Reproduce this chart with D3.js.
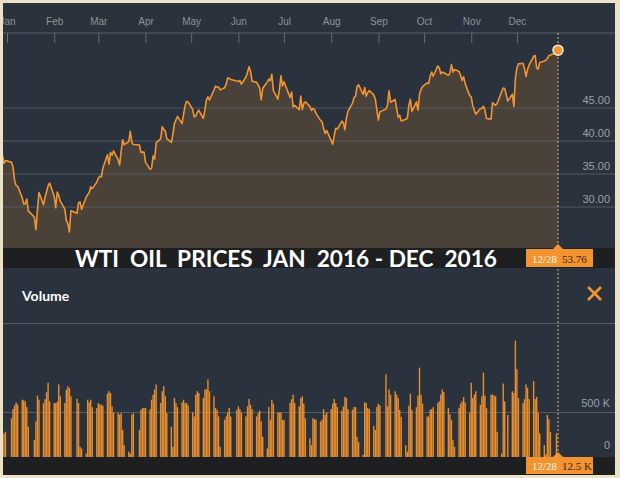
<!DOCTYPE html>
<html><head><meta charset="utf-8">
<script src="https://cdn.jsdelivr.net/npm/d3@7"></script>
<style>
html,body{margin:0;padding:0;background:#ebe2c8;}
svg{display:block;}
</style></head>
<body>
<svg id="chart" width="620" height="478"></svg>
<script>
// ---------- DATA ----------
const dates = [
"2015-12-28","2015-12-29","2015-12-30","2015-12-31",
"2016-01-04","2016-01-05","2016-01-06","2016-01-07","2016-01-08","2016-01-11","2016-01-12","2016-01-13","2016-01-14","2016-01-15","2016-01-19","2016-01-20","2016-01-21","2016-01-22","2016-01-25","2016-01-26","2016-01-27","2016-01-28","2016-01-29",
"2016-02-01","2016-02-02","2016-02-03","2016-02-04","2016-02-05","2016-02-08","2016-02-09","2016-02-10","2016-02-11","2016-02-12","2016-02-16","2016-02-17","2016-02-18","2016-02-19","2016-02-22","2016-02-23","2016-02-24","2016-02-25","2016-02-26","2016-02-29",
"2016-03-01","2016-03-02","2016-03-03","2016-03-04","2016-03-07","2016-03-08","2016-03-09","2016-03-10","2016-03-11","2016-03-14","2016-03-15","2016-03-16","2016-03-17","2016-03-18","2016-03-21","2016-03-22","2016-03-23","2016-03-24","2016-03-28","2016-03-29","2016-03-30","2016-03-31",
"2016-04-01","2016-04-04","2016-04-05","2016-04-06","2016-04-07","2016-04-08","2016-04-11","2016-04-12","2016-04-13","2016-04-14","2016-04-15","2016-04-18","2016-04-19","2016-04-20","2016-04-21","2016-04-22","2016-04-25","2016-04-26","2016-04-27","2016-04-28","2016-04-29",
"2016-05-02","2016-05-03","2016-05-04","2016-05-05","2016-05-06","2016-05-09","2016-05-10","2016-05-11","2016-05-12","2016-05-13","2016-05-16","2016-05-17","2016-05-18","2016-05-19","2016-05-20","2016-05-23","2016-05-24","2016-05-25","2016-05-26","2016-05-27","2016-05-31",
"2016-06-01","2016-06-02","2016-06-03","2016-06-06","2016-06-07","2016-06-08","2016-06-09","2016-06-10","2016-06-13","2016-06-14","2016-06-15","2016-06-16","2016-06-17","2016-06-20","2016-06-21","2016-06-22","2016-06-23","2016-06-24","2016-06-27","2016-06-28","2016-06-29","2016-06-30",
"2016-07-01","2016-07-05","2016-07-06","2016-07-07","2016-07-08","2016-07-11","2016-07-12","2016-07-13","2016-07-14","2016-07-15","2016-07-18","2016-07-19","2016-07-20","2016-07-21","2016-07-22","2016-07-25","2016-07-26","2016-07-27","2016-07-28","2016-07-29",
"2016-08-01","2016-08-02","2016-08-03","2016-08-04","2016-08-05","2016-08-08","2016-08-09","2016-08-10","2016-08-11","2016-08-12","2016-08-15","2016-08-16","2016-08-17","2016-08-18","2016-08-19","2016-08-22","2016-08-23","2016-08-24","2016-08-25","2016-08-26","2016-08-29","2016-08-30","2016-08-31",
"2016-09-01","2016-09-02","2016-09-06","2016-09-07","2016-09-08","2016-09-09","2016-09-12","2016-09-13","2016-09-14","2016-09-15","2016-09-16","2016-09-19","2016-09-20","2016-09-21","2016-09-22","2016-09-23","2016-09-26","2016-09-27","2016-09-28","2016-09-29","2016-09-30",
"2016-10-03","2016-10-04","2016-10-05","2016-10-06","2016-10-07","2016-10-10","2016-10-11","2016-10-12","2016-10-13","2016-10-14","2016-10-17","2016-10-18","2016-10-19","2016-10-20","2016-10-21","2016-10-24","2016-10-25","2016-10-26","2016-10-27","2016-10-28","2016-10-31",
"2016-11-01","2016-11-02","2016-11-03","2016-11-04","2016-11-07","2016-11-08","2016-11-09","2016-11-10","2016-11-11","2016-11-14","2016-11-15","2016-11-16","2016-11-17","2016-11-18","2016-11-21","2016-11-22","2016-11-23","2016-11-25","2016-11-28","2016-11-29","2016-11-30",
"2016-12-01","2016-12-02","2016-12-05","2016-12-06","2016-12-07","2016-12-08","2016-12-09","2016-12-12","2016-12-13","2016-12-14","2016-12-15","2016-12-16","2016-12-19","2016-12-20","2016-12-21","2016-12-22","2016-12-23","2016-12-27","2016-12-28"
];
const prices = [
36.81,37.87,36.60,37.04,
36.76,35.97,33.97,33.27,33.16,31.41,30.44,30.48,31.20,29.42,28.46,26.55,29.53,32.19,30.34,31.45,32.30,33.22,33.62,
31.62,29.88,32.28,31.72,30.89,29.69,27.94,27.45,26.21,29.44,29.04,30.66,30.77,29.64,31.48,31.87,32.15,33.07,32.78,33.75,
34.40,34.66,34.57,35.92,37.90,36.50,38.29,37.84,38.50,37.18,36.34,38.46,40.20,39.44,39.91,41.45,39.79,39.46,39.39,38.28,38.32,38.34,
36.79,35.70,35.89,37.75,37.26,39.72,40.36,42.17,41.76,41.50,40.36,39.78,41.08,42.63,43.18,43.73,42.64,44.04,45.33,46.03,45.92,
44.78,43.65,43.78,44.32,44.66,43.44,44.66,46.23,46.70,46.21,47.72,48.31,48.19,48.16,47.75,48.08,48.62,49.56,49.48,49.33,49.10,
49.01,49.17,48.62,49.69,50.36,51.23,50.56,49.07,48.88,48.49,48.01,46.21,47.98,48.96,49.37,49.13,50.11,47.64,46.33,47.85,49.88,48.33,
48.99,46.60,47.43,45.14,45.41,44.76,46.80,44.75,45.68,45.95,45.24,44.65,44.94,44.75,44.19,43.13,42.92,41.92,41.14,41.60,
40.06,39.51,40.83,41.93,41.80,43.02,42.77,41.71,43.49,44.49,45.74,46.58,46.79,48.22,48.52,47.05,48.10,46.77,47.33,47.64,46.98,46.35,44.70,
43.16,44.44,44.83,45.50,47.62,45.88,46.29,44.90,43.58,43.91,43.03,43.30,43.44,45.34,46.32,44.48,45.93,44.67,47.05,47.83,48.24,
48.81,48.69,49.83,50.44,49.81,51.35,51.10,50.18,50.44,50.35,49.94,50.29,51.60,50.43,50.85,50.52,49.96,49.18,49.72,48.70,46.86,
46.67,45.34,44.66,44.07,44.89,44.98,45.27,44.66,43.41,43.32,45.81,45.57,45.42,45.69,47.49,48.03,47.96,46.06,47.08,45.23,49.44,
51.06,51.68,51.79,50.93,49.77,50.84,51.50,52.83,52.98,51.04,50.90,51.90,52.12,52.23,52.49,52.95,53.02,53.40,53.76
];
// volume in thousands of contracts
const volumes = [
240,250,265,285,
436,540,580,614,590,644,637,625,560,341,190,400,690,644,606,650,728,834,625,
606,606,620,815,682,606,758,796,777,682,652,606,114,95,38,644,614,644,560,550,
606,590,587,576,712,740,720,568,500,493,474,493,303,133,60,38,474,493,303,530,550,550,
550,538,644,700,758,815,606,740,796,682,493,341,114,663,606,560,614,644,606,606,580,
500,455,701,740,720,663,758,760,872,739,682,550,530,455,114,420,455,500,550,455,530,
568,538,500,455,568,652,587,538,455,493,522,400,227,95,561,417,644,600,500,500,500,417,
417,606,650,701,606,568,663,682,600,436,208,133,436,424,420,398,420,538,474,500,
538,600,652,606,561,520,568,675,663,538,530,561,561,227,170,25,614,606,550,540,350,303,561,
599,580,929,568,758,701,739,701,663,530,450,133,60,576,712,530,560,690,1004,701,600,
455,455,530,538,560,606,625,701,758,728,550,480,417,190,114,550,600,625,675,614,500,
834,663,700,739,587,682,948,690,550,701,701,690,682,284,38,826,625,474,739,720,1308,
985,663,606,650,815,777,652,853,652,675,500,265,133,30,474,424,284,265,12.5
];
const priceTicks = [30, 35, 40, 45];
const volumeTicks = [0, 500];
const monthTicks = ["2016-01-01","2016-02-01","2016-03-01","2016-04-01","2016-05-01","2016-06-01","2016-07-01","2016-08-01","2016-09-01","2016-10-01","2016-11-01","2016-12-01"];
const titleText = "WTI  OIL  PRICES  JAN  2016 - DEC  2016";
const lastLabelDate = "12/28";

// ---------- DRAW ----------
const parse = d3.timeParse("%Y-%m-%d");
const data = dates.map((d, i) => ({date: parse(d), price: prices[i], vol: volumes[i]}));
const last = data[data.length - 1];

const svg = d3.select("#chart");
const L = 3, R = 615, T = 3, B = 475;
const BG = "#29323d", STRIP = "#1e1f20", ORANGE = "#f29430", GRID = "#596069", LABEL = "#9aa0a7";

svg.append("defs").append("clipPath").attr("id", "clip")
  .append("rect").attr("x", L).attr("y", T).attr("width", R - L).attr("height", B - T);

svg.append("rect").attr("x", L).attr("y", T).attr("width", R - L).attr("height", B - T).attr("fill", BG);

const root = svg.append("g").attr("clip-path", "url(#clip)");

const x = d3.scaleTime().domain([parse("2016-01-01"), parse("2016-12-28")]).range([7, 558]);
const y = d3.scaleLinear().domain([30, 45]).range([207, 108]);
const yv = d3.scaleLinear().domain([0, 500]).range([457, 412.5]);

const priceBottom = 248;

// area
const area = d3.area().x(d => x(d.date)).y0(priceBottom).y1(d => y(d.price));
root.append("path").datum(data).attr("d", area).attr("fill", "#4a4139");

// price gridlines
root.append("g").selectAll("line").data(priceTicks).join("line")
  .attr("x1", L).attr("x2", R).attr("y1", d => y(d)).attr("y2", d => y(d))
  .attr("stroke", GRID).attr("stroke-width", 1).attr("opacity", 0.9);

// price line
const line = d3.line().x(d => x(d.date)).y(d => y(d.price));
root.append("path").datum(data).attr("d", line).attr("fill", "none")
  .attr("stroke", ORANGE).attr("stroke-width", 1.6).attr("stroke-linejoin", "round");

// price axis labels
const ya = d3.axisLeft(y).tickValues(priceTicks).tickFormat(d3.format(".2f")).tickSize(0).tickPadding(0);
const yag = root.append("g").attr("transform", `translate(610,0)`).call(ya);
yag.select(".domain").remove();
yag.selectAll("text").attr("dy", "-5px").attr("fill", LABEL)
  .style("font-family", "Liberation Sans, Arial, sans-serif").style("font-size", "11px");

// top month axis
root.append("line").attr("x1", L).attr("x2", R).attr("y1", 33).attr("y2", 33).attr("stroke", "#5a616a").attr("stroke-width", 1.2);
const xa = d3.axisTop(x).tickValues(monthTicks.map(parse)).tickFormat(d3.timeFormat("%b"))
  .tickSizeInner(-10).tickSizeOuter(0).tickPadding(8);
const xag = root.append("g").attr("transform", "translate(0,33)").call(xa);
xag.select(".domain").remove();
xag.selectAll(".tick line").attr("stroke", "#656c75");
xag.selectAll("text").attr("fill", "#8d939a")
  .style("font-family", "Liberation Sans, Arial, sans-serif").style("font-size", "10px");

// title strip
root.append("rect").attr("x", L).attr("y", priceBottom).attr("width", R - L).attr("height", 20).attr("fill", STRIP);
root.append("text").attr("x", 286).attr("y", 266.5).attr("text-anchor", "middle")
  .attr("textLength", 422).attr("lengthAdjust", "spacingAndGlyphs")
  .style("white-space", "pre").style("font-family", "Lato, 'Open Sans', sans-serif")
  .style("font-weight", "bold").style("font-size", "23px").attr("fill", "#ffffff")
  .text(titleText);

// volume header
root.append("text").attr("x", 22).attr("y", 301).text("Volume")
  .style("font-family", "Lato, 'Open Sans', sans-serif").style("font-weight", "bold")
  .style("font-size", "14px").attr("fill", "#ffffff");
root.append("path").attr("d", "M588,287L601,300M601,287L588,300")
  .attr("stroke", ORANGE).attr("stroke-width", 2.6).attr("fill", "none");

// volume gridlines
root.append("g").selectAll("line").data([500, 1500]).join("line")
  .attr("x1", L).attr("x2", R).attr("y1", d => yv(d)).attr("y2", d => yv(d))
  .attr("stroke", GRID).attr("stroke-width", 1).attr("opacity", 0.9);

// volume bars
root.append("g").selectAll("rect").data(data).join("rect")
  .attr("x", d => x(d.date) - 0.7).attr("width", 1.4)
  .attr("y", d => yv(d.vol)).attr("height", d => yv(0) - yv(d.vol))
  .attr("fill", "#e98e2d");

// volume labels
const va = d3.axisLeft(yv).tickValues(volumeTicks).tickFormat(d => d === 0 ? "0" : d + " K").tickSize(0).tickPadding(0);
const vag = root.append("g").attr("transform", "translate(610,0)").call(va);
vag.select(".domain").remove();
vag.selectAll("text").attr("dy", d => d === 0 ? "-9px" : "-6px").attr("fill", LABEL)
  .style("font-family", "Liberation Sans, Arial, sans-serif").style("font-size", "11px");

// bottom strip
root.append("rect").attr("x", L).attr("y", yv(0)).attr("width", R - L).attr("height", B - yv(0)).attr("fill", STRIP);

// crosshair dotted line
const lx = x(last.date);
root.append("line").attr("x1", lx).attr("x2", lx).attr("y1", 33).attr("y2", yv(0))
  .attr("stroke", "#d8b488").attr("stroke-width", 1).attr("stroke-dasharray", "2,2");

// last point
root.append("circle").attr("cx", lx).attr("cy", y(last.price)).attr("r", 5)
  .attr("fill", ORANGE).attr("stroke", "#fde9d2").attr("stroke-width", 1.5);

// label boxes
function tag(yTop, h, value) {
  const g = root.append("g");
  g.append("path").attr("d", `M${lx - 5},${yTop}L${lx},${yTop - 5}L${lx + 5},${yTop}Z`).attr("fill", ORANGE);
  g.append("rect").attr("x", 526).attr("y", yTop).attr("width", 67).attr("height", h).attr("fill", ORANGE);
  g.append("text").attr("x", 532).attr("y", yTop + h - 4.5).text(lastLabelDate)
    .style("font-family", "Liberation Serif, 'DejaVu Serif', serif").style("font-size", "11px")
    .attr("fill", "#fff4e4");
  g.append("text").attr("x", 562).attr("y", yTop + h - 4.5).text(value)
    .style("font-family", "Liberation Serif, 'DejaVu Serif', serif").style("font-size", "11px")
    .attr("fill", "#3d2610");
}
tag(249, 18, d3.format(".2f")(last.price));
tag(457, 17, last.vol + " K");
</script>
</body></html>
